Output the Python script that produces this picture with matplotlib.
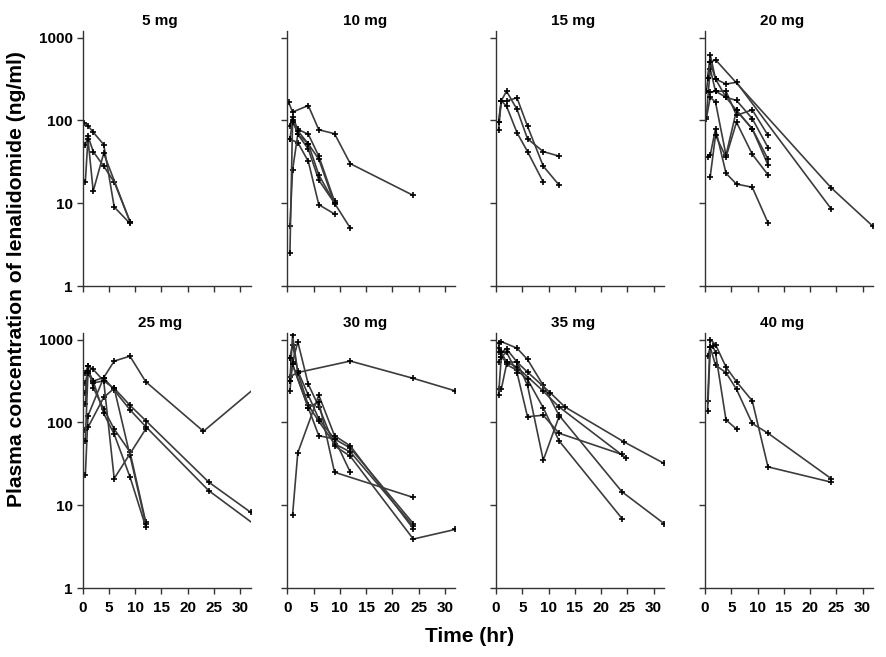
import matplotlib
matplotlib.use("Agg")
import matplotlib.pyplot as plt
from matplotlib.ticker import NullLocator, FixedLocator

plt.rcParams['font.family'] = ['Liberation Sans', 'DejaVu Sans']
plt.rcParams['font.weight'] = 'bold'

# dose panels, each a list of (time hr, concentration ng/ml) per patient
dose_labels = ['5 mg', '10 mg', '15 mg', '20 mg', '25 mg', '30 mg', '35 mg', '40 mg']

mg5 = [
    ([0.25, 1, 2, 4, 6, 9], [94, 86, 72, 51, 9, 5.7]),
    ([0.5, 1, 2, 4, 6, 9], [50, 65, 42, 28, 18, 6]),
    ([0.5, 1, 2, 4, 9], [18, 60, 14, 40, 6]),
]
mg10 = [
    ([0.25, 1, 4, 6, 9, 12, 24], [166, 126, 151, 77, 69, 30, 12.4]),
    ([0.5, 1, 2, 4, 6, 9], [86, 110, 78, 68, 37, 10.5]),
    ([0.5, 1, 2, 4, 6, 9], [59, 100, 68, 52, 34, 9.8]),
    ([0.5, 2, 4, 6, 9], [59, 54, 32, 9.6, 7.4]),
    ([0.5, 1, 2, 4, 6, 9, 12], [5.3, 25, 68, 45, 19, 10, 5]),
    ([0.5, 1, 2, 4, 6, 9], [2.5, 95, 75, 52, 22, 10]),
]
mg15 = [
    ([0.5, 1, 2, 4, 6, 9, 12], [95, 172, 172, 187, 85, 28, 16.6]),
    ([0.5, 1, 2, 4, 6, 9, 12], [77, 172, 225, 136, 60, 42, 37]),
    ([0.5, 1, 2, 4, 6, 9], [95, 172, 149, 71, 42, 18]),
]
mg20 = [
    ([0.25, 1, 2, 24, 32], [225, 500, 540, 15.4, 5.25]),
    ([0.5, 1, 2, 4, 6, 24], [325, 620, 316, 275, 288, 8.6]),
    ([0.25, 1, 2, 4, 6, 9, 12], [110, 417, 225, 190, 174, 105, 47]),
    ([0.25, 1, 2, 4, 6, 9, 12], [105, 190, 166, 38, 132, 79, 29]),
    ([0.5, 1, 2, 4, 6, 9, 12], [36, 38, 79, 23, 17, 15.6, 5.8]),
    ([1, 2, 4, 6, 9, 12], [21, 66, 36, 95, 39, 22]),
    ([0.25, 1, 2, 4, 6, 9, 12], [225, 218, 225, 225, 115, 134, 66]),
    ([0.5, 1, 2, 4, 6, 9, 12], [325, 500, 316, 190, 132, 79, 34]),
]
mg25 = [
    ([0.5, 1, 4, 6, 9, 12, 23, 36], [23, 120, 347, 550, 630, 310, 78, 385]),
    ([0.5, 1, 2, 4, 6, 9, 12, 24, 32], [398, 479, 437, 316, 258, 161, 105, 19, 8.2]),
    ([0.5, 1, 2, 4, 6, 9, 12, 24, 36], [302, 417, 316, 347, 245, 142, 89, 15, 4.1]),
    ([0.5, 1, 2, 4, 6, 9, 12], [229, 479, 263, 145, 83, 44, 6.3]),
    ([0.5, 1, 2, 4, 6, 9, 12], [166, 417, 316, 128, 72, 22, 5.5]),
    ([0.5, 1, 4, 6, 9, 12], [81, 87, 200, 258, 40, 6.0]),
    ([0.5, 1, 2, 4, 6, 12], [60, 400, 300, 316, 21, 83]),
]
mg30 = [
    ([0.5, 2, 12, 24, 32], [356, 400, 550, 340, 240]),
    ([0.5, 1, 2, 4, 6, 9, 12, 24], [603, 871, 417, 213, 110, 63, 49, 6.0]),
    ([0.5, 1, 2, 4, 6, 9, 12, 24], [316, 1127, 398, 161, 103, 55, 44, 5.6]),
    ([0.5, 1, 2, 4, 6, 9, 12, 24, 32], [240, 535, 938, 288, 155, 52, 39, 3.9, 5.1]),
    ([1, 2, 6, 9, 12, 24], [7.6, 43, 213, 69, 52, 5.2]),
    ([0.5, 1, 4, 6, 9, 24], [600, 500, 150, 178, 25, 12.4]),
    ([0.5, 1, 4, 6, 9, 12], [316, 500, 150, 69, 63, 25]),
]
mg35 = [
    ([0.5, 1, 4, 6, 9, 12, 24, 32], [912, 946, 787, 575, 280, 122, 14.5, 6.0]),
    ([0.5, 1, 2, 4, 6, 10.3, 13.1, 24.4, 32], [705, 705, 773, 535, 405, 229, 154, 58, 32]),
    ([0.5, 1, 2, 4, 9, 12, 24.8], [535, 614, 535, 466, 238, 154, 37]),
    ([0.5, 1, 2, 4, 6, 9, 12, 24], [251, 251, 500, 425, 331, 150, 60, 6.9]),
    ([0.5, 1, 2, 4, 6, 9, 12, 24], [217, 614, 705, 400, 117, 122, 74, 41]),
    ([0.5, 1, 2, 4, 6, 9, 12], [800, 705, 535, 535, 280, 35, 117]),
]
mg40 = [
    ([0.5, 1, 2, 4, 6, 9, 12, 24], [630, 809, 492, 398, 251, 97, 74, 21]),
    ([0.5, 1, 2, 4, 6, 9, 12, 24], [179, 1000, 871, 466, 310, 182, 29, 19]),
    ([0.5, 1, 1.5, 2, 4, 6], [138, 809, 832, 692, 107, 83]),
]

panels = [mg5, mg10, mg15, mg20, mg25, mg30, mg35, mg40]
x_ticks = [0, 5, 10, 15, 20, 25, 30]
y_ticks = [1, 10, 100, 1000]

W, H = 886, 657
fig = plt.figure(figsize=(W / 100, H / 100), dpi=100)

lefts = [82.7, 287.3, 496, 705]
tops = [31, 333]
pw, ph = 168, 255

for i, (label, subjects) in enumerate(zip(dose_labels, panels)):
    row, col = divmod(i, 4)
    ax = fig.add_axes([lefts[col] / W, 1 - (tops[row] + ph) / H, pw / W, ph / H])
    for t, c in subjects:
        ax.plot(t, c, color='#3c3c3c', lw=1.2, marker='+', ms=5,
                mec='black', mew=1.2)
    ax.set_yscale('log')
    ax.set_ylim(1, 1200)
    ax.set_xlim(0, 32)
    ax.yaxis.set_major_locator(FixedLocator(y_ticks))
    ax.yaxis.set_minor_locator(NullLocator())
    ax.set_xticks(x_ticks)
    for s in ['top', 'right']:
        ax.spines[s].set_visible(False)
    for s in ['left', 'bottom']:
        ax.spines[s].set_color('#333333')
        ax.spines[s].set_linewidth(1.0)
    ax.tick_params(direction='out', length=4, width=1, color='#333333',
                   labelsize=11)
    ax.tick_params(axis='x', pad=5)
    ax.tick_params(axis='y', pad=3)
    if col == 0:
        ax.set_yticklabels([str(v) for v in y_ticks], fontweight='bold')
    else:
        ax.set_yticklabels([])
    if row == 1:
        ax.set_xticklabels([str(v) for v in x_ticks], fontweight='bold')
    else:
        ax.set_xticklabels([])
    ax.set_title(label, x=0.46, pad=4, fontsize=11, fontweight='bold')

fig.text(17 / W, 1 - 279 / H, 'Plasma concentration of lenalidomide (ng/ml)',
         rotation=90, ha='center', va='center', fontsize=15.2, fontweight='bold')
fig.text(470 / W, 1 - 637 / H, 'Time (hr)', ha='center', va='center',
         fontsize=15, fontweight='bold')

fig.savefig('out.png', dpi=100)
